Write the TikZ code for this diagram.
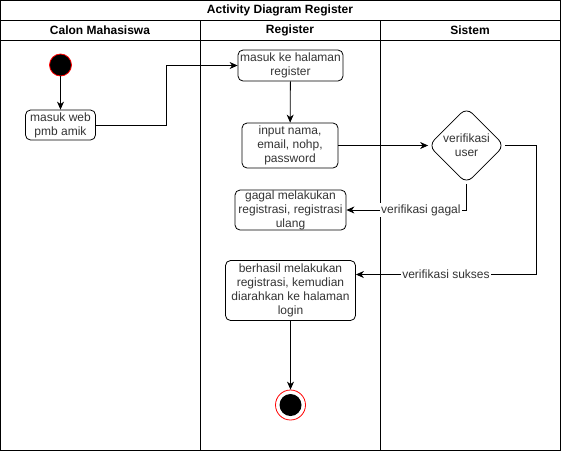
\documentclass[tikz,border=0pt]{standalone}
\usepackage{fontspec}
\setmainfont{Liberation Sans}
\usetikzlibrary{arrows.meta,shapes.geometric,calc}

\begin{document}
\begin{tikzpicture}[x=1pt,y=-1pt,line width=0.8pt,
            aktivitas/.style={draw,rounded corners=5pt,align=center,inner sep=0pt,
                text=black!80,font=\fontsize{12}{14}\selectfont},
            keputusan/.style={draw,diamond,rounded corners=8pt,minimum width=76pt,
                minimum height=76pt,inner sep=0pt},
            judul/.style={font=\bfseries\fontsize{12}{14}\selectfont},
            teksgaris/.style={fill=white,inner sep=1pt,text=black!80,
                font=\fontsize{12}{14}\selectfont},
            panah/.style={-{Stealth[length=8pt,width=7pt,inset=2.5pt]}}]
            \useasboundingbox (0,0) rectangle (561,451);
            % kolom (swimlane)
            \draw (0.5,0.5) rectangle (560.5,450.5);
            \draw (0.5,20) -- (560.5,20);
            \draw (0.5,40.5) -- (560.5,40.5);
            \draw (200,20) -- (200,450.5);
            \draw (380,20) -- (380,450.5);
            \node[judul] (jdl) at (280,10.5) {Activity Diagram Register};
            \node[judul] (calon) at (100,30.5) {Calon Mahasiswa};
            \node[judul] (reg) at (290,30.5) {Register};
            \node[judul] (sis) at (470,30.5) {Sistem};
            % simpul
            \node[circle,draw=red,fill=black,minimum size=22pt,inner sep=0pt] (mulai) at (60.5,65) {};
            \node[aktivitas,minimum width=70pt,minimum height=30pt] (web) at (60.5,125) {masuk web\\pmb amik};
            \node[aktivitas,minimum width=105pt,minimum height=31pt] (halaman) at (290.5,65.5) {masuk ke halaman\\register};
            \node[aktivitas,minimum width=96pt,minimum height=45pt] (input) at (290,145.5) {input nama,\\email, nohp,\\password};
            \node[keputusan] (verif) at (466.5,145.5) {};
            \node[align=center,text=black!80,font=\fontsize{12}{14}\selectfont] (verifteks) at (verif) {verifikasi\\user};
            \node[aktivitas,minimum width=111pt,minimum height=40pt] (gagal) at (290.5,210) {gagal melakukan\\registrasi, registrasi\\ulang};
            \node[aktivitas,minimum width=130pt,minimum height=60pt] (berhasil) at (290.5,290.5) {berhasil melakukan\\registrasi, kemudian\\diarahkan ke halaman\\login};
            \node[circle,draw=red,fill=white,minimum size=30pt,inner sep=0pt] (selesai) at (290.5,405) {};
            \fill (selesai) circle (11pt);
            \coordinate (belok) at (166.5,0);
            \coordinate (belokkanan) at (536,0);
            % alur
            \draw[panah] (mulai) -- (web);
            \draw[panah] (web.east) -| (belok |- halaman.west) -- (halaman.west);
            \draw[panah] (halaman) -- (input);
            \draw[panah] (input) -- (verif);
            \draw[panah] (verif.south) |- node[teksgaris,pos=0.69] {verifikasi gagal} (gagal.east);
            \draw[panah] (verif.east) -- (belokkanan |- verif.east)
                |- node[teksgaris,pos=0.75] {verifikasi sukses} ($(berhasil.east)+(0,-16)$);
            \draw[panah] (berhasil) -- (selesai);
        \end{tikzpicture}
\end{document}
